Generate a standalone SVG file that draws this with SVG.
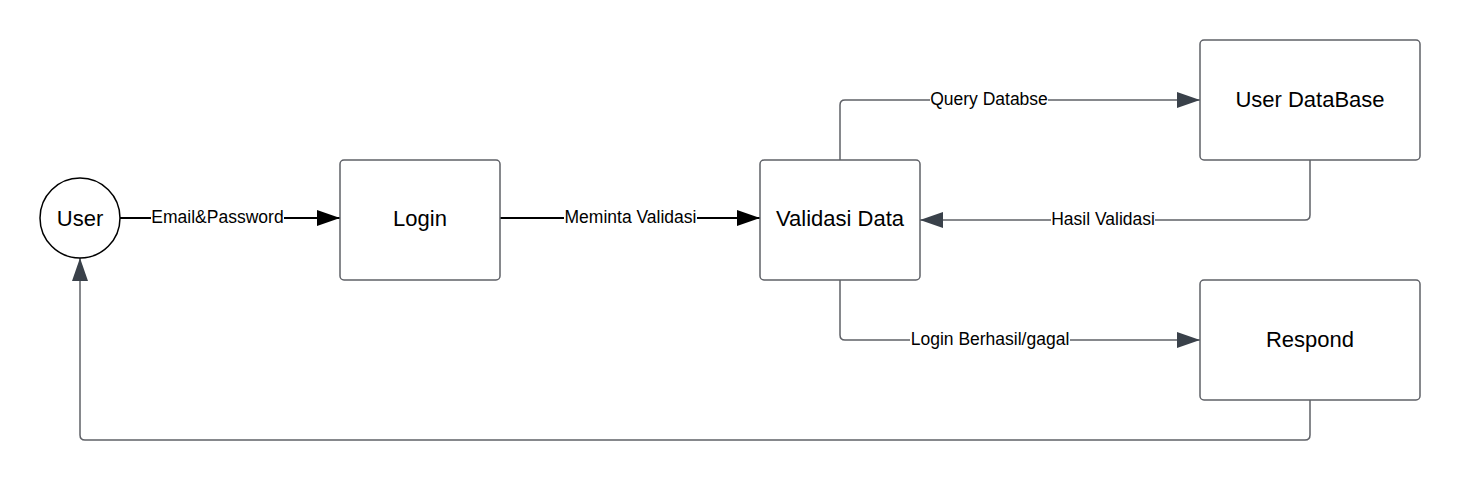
<svg xmlns="http://www.w3.org/2000/svg" width="1460" height="481" viewBox="0 0 1460 481">
<style>
.node{fill:#fff;stroke:#5f6167;stroke-width:1.5}
.circ{fill:#fff;stroke:#000;stroke-width:1.5}
.nt{font-family:"Liberation Sans",Arial,sans-serif;font-size:22px;fill:#000;text-anchor:middle;dominant-baseline:central}
.lt{font-family:"Liberation Sans",Arial,sans-serif;font-size:17.5px;fill:#000;text-anchor:middle;dominant-baseline:central}
.lbg{fill:#fff}
.blk{fill:none;stroke:#000;stroke-width:2}
.gry{fill:none;stroke:#5f6167;stroke-width:1.5}
</style>
<defs>
<marker id="ab" markerUnits="userSpaceOnUse" markerWidth="24" markerHeight="18" refX="23" refY="9" orient="auto"><path d="M0,1 L23,9 L0,17 Z" fill="#000"/></marker>
<marker id="ag" markerUnits="userSpaceOnUse" markerWidth="24" markerHeight="18" refX="23" refY="9" orient="auto"><path d="M0,1 L23,9 L0,17 Z" fill="#3a414a"/></marker>
</defs>
<rect width="1460" height="481" fill="#fff"/>
<g id="connectors">
<path class="blk" d="M120,218 L340,218" marker-end="url(#ab)"/>
<path class="blk" d="M500,218 L760,218" marker-end="url(#ab)"/>
<path class="gry" d="M840,160 L840,105 Q840,100 845,100 L1200,100" marker-end="url(#ag)"/>
<path class="gry" d="M1310,160 L1310,215 Q1310,220 1305,220 L920,220" marker-end="url(#ag)"/>
<path class="gry" d="M840,280 L840,335 Q840,340 845,340 L1200,340" marker-end="url(#ag)"/>
<path class="gry" d="M1310,400 L1310,435 Q1310,440 1305,440 L85,440 Q80,440 80,435 L80,258" marker-end="url(#ag)"/>
<rect class="lbg" x="151" y="208" width="133" height="18"/>
<text class="lt" x="217.5" y="217">Email&amp;Password</text>
<rect class="lbg" x="564" y="208" width="133" height="18"/>
<text class="lt" x="630.5" y="217">Meminta Validasi</text>
<rect class="lbg" x="930" y="90" width="118" height="18"/>
<text class="lt" x="989" y="99">Query Databse</text>
<rect class="lbg" x="1051" y="210" width="104" height="18"/>
<text class="lt" x="1103" y="219">Hasil Validasi</text>
<rect class="lbg" x="910" y="330" width="160" height="18"/>
<text class="lt" x="990" y="339">Login Berhasil/gagal</text>
</g>
<g id="user"><circle class="circ" cx="80" cy="218" r="40"/><text class="nt" x="80" y="218">User</text></g>
<g id="login"><rect class="node" x="340" y="160" width="160" height="120" rx="4"/><text class="nt" x="420" y="218">Login</text></g>
<g id="validasi"><rect class="node" x="760" y="160" width="160" height="120" rx="4"/><text class="nt" x="840" y="218">Validasi Data</text></g>
<g id="userdb"><rect class="node" x="1200" y="40" width="220" height="120" rx="4"/><text class="nt" x="1310" y="99">User DataBase</text></g>
<g id="respond"><rect class="node" x="1200" y="280" width="220" height="120" rx="4"/><text class="nt" x="1310" y="339">Respond</text></g>
</svg>
